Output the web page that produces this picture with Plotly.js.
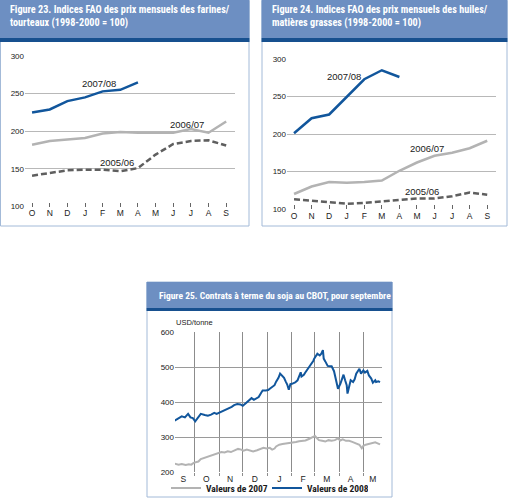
<!DOCTYPE html>
<html><head><meta charset="utf-8">
<script src="https://cdn.plot.ly/plotly-3.0.1.min.js"></script>
<style>html,body{margin:0;padding:0;background:#fff;overflow:hidden;}#chart{width:511px;height:499px;}</style>
</head><body><div id="chart"></div><script>
// ---------- data ----------
const monthLetters = ['O','N','D','J','F','M','A','M','J','J','A','S'];
const monthIdx = [0,1,2,3,4,5,6,7,8,9,10,11];
// Figure 23 : farines / tourteaux
const meal0708 = [225,229,240,245,253,255,265];
const meal0607 = [182,187,189,191,197,199,198,198,198,203,198,213];
const meal0506 = [141,144,148,149,149,147,151,169,183,187,188,181];
// Figure 24 : huiles / matières grasses
const oil0708 = [201,221,226,250,273,285,276];
const oil0607 = [120,130,136,135,136,138,151,162,171,175,181,191];
const oil0506 = [113,111,108,107,108,110,112,114,114,117,122,119];
// Figure 25 : soja CBOT, septembre
const dates2008 = ['2007-09-06','2007-09-11','2007-09-15','2007-09-19','2007-09-23','2007-09-26','2007-09-29','2007-10-02','2007-10-05','2007-10-09','2007-10-14','2007-10-18','2007-10-22','2007-10-26','2007-10-29','2007-11-02','2007-11-05','2007-11-09','2007-11-13','2007-11-17','2007-11-20','2007-11-24','2007-11-28','2007-12-01','2007-12-04','2007-12-07','2007-12-10','2007-12-12','2007-12-15','2007-12-19','2007-12-21','2007-12-24','2007-12-26','2007-12-30','2008-01-02','2008-01-04','2008-01-07','2008-01-10','2008-01-12','2008-01-15','2008-01-17','2008-01-20','2008-01-22','2008-01-24','2008-01-26','2008-01-28','2008-01-30','2008-02-01','2008-02-05','2008-02-08','2008-02-10','2008-02-12','2008-02-13','2008-02-16','2008-02-18','2008-02-21','2008-02-23','2008-02-26','2008-02-28','2008-02-29','2008-03-02','2008-03-04','2008-03-07','2008-03-09','2008-03-11','2008-03-12','2008-03-14','2008-03-17','2008-03-20','2008-03-22','2008-03-25','2008-03-27','2008-03-30','2008-04-02','2008-04-05','2008-04-06','2008-04-08','2008-04-10','2008-04-11','2008-04-13','2008-04-15','2008-04-18','2008-04-20','2008-04-22','2008-04-25','2008-04-26','2008-04-28','2008-05-01','2008-05-03','2008-05-06','2008-05-08','2008-05-11','2008-05-13','2008-05-16','2008-05-17','2008-05-20','2008-05-22'];
const soy2008 = [347,354,359,356,366,356,354,345,354,366,363,361,364,369,366,370,372,376,381,386,391,394,393,389,395,402,406,411,406,411,414,426,433,433,434,438,443,448,458,469,481,475,469,459,450,435,451,452,456,462,475,485,473,478,485,494,502,511,518,524,531,538,533,538,548,524,516,503,502,502,488,467,438,452,471,478,462,448,424,448,462,457,465,481,490,495,481,490,484,489,476,467,455,462,457,459,457];
const dates2007 = ['2007-09-06','2007-09-11','2007-09-15','2007-09-20','2007-09-24','2007-09-27','2007-09-30','2007-10-03','2007-10-06','2007-10-09','2007-10-14','2007-10-18','2007-10-22','2007-10-26','2007-10-31','2007-11-04','2007-11-08','2007-11-12','2007-11-16','2007-11-20','2007-11-25','2007-11-29','2007-12-02','2007-12-06','2007-12-10','2007-12-14','2007-12-19','2007-12-23','2007-12-27','2007-12-31','2008-01-04','2008-01-07','2008-01-10','2008-01-12','2008-01-16','2008-01-20','2008-01-24','2008-01-29','2008-02-02','2008-02-06','2008-02-10','2008-02-14','2008-02-18','2008-02-23','2008-02-27','2008-03-01','2008-03-03','2008-03-06','2008-03-10','2008-03-14','2008-03-18','2008-03-22','2008-03-26','2008-03-30','2008-04-02','2008-04-05','2008-04-09','2008-04-13','2008-04-17','2008-04-21','2008-04-26','2008-04-29','2008-05-01','2008-05-04','2008-05-08','2008-05-12','2008-05-16','2008-05-19','2008-05-22'];
const soy2007 = [224,221,223,220,222,221,226,228,230,237,241,244,248,252,255,257,256,259,257,262,266,264,261,264,261,259,262,266,269,267,269,264,267,273,278,280,281,283,283,286,288,288,290,295,300,303,298,291,289,287,291,289,291,296,290,293,289,289,286,283,278,268,275,278,280,282,285,282,279];
const soyMonthLabels = ['S','O','N','D','J','F','M','A','M'];
const soyLabelDates = ['2007-09-17','2007-10-16','2007-11-15','2007-12-16','2008-01-16','2008-02-15','2008-03-16','2008-04-15','2008-05-13'];
const soyMonthStarts = ['2007-10-01','2007-11-01','2007-12-01','2008-01-01','2008-02-01','2008-03-01','2008-04-01','2008-05-01'];

// ---------- helpers ----------
const W = 511, H = 499;
const px = x => x / W, py = y => 1 - y / H;
const BLUE = '#11569c', LGREY = '#b3b3b3', DGREY = '#5f5f5f';
const NARROW = '"Liberation Sans Narrow", "Arial Narrow", "Roboto Condensed", "Liberation Sans", sans-serif';
const SANS = '"Liberation Sans", Arial, sans-serif';

const traces = [
  {x: monthIdx.slice(0, meal0708.length), y: meal0708, xaxis:'x', yaxis:'y', mode:'lines', line:{color:BLUE, width:2.5}, showlegend:false, name:'2007/08'},
  {x: monthIdx, y: meal0607, xaxis:'x', yaxis:'y', mode:'lines', line:{color:LGREY, width:2.5}, showlegend:false, name:'2006/07'},
  {x: monthIdx, y: meal0506, xaxis:'x', yaxis:'y', mode:'lines', line:{color:DGREY, width:2.5, dash:'6px,3px'}, showlegend:false, name:'2005/06'},
  {x: monthIdx.slice(0, oil0708.length), y: oil0708, xaxis:'x2', yaxis:'y2', mode:'lines', line:{color:BLUE, width:2.5}, showlegend:false, name:'2007/08'},
  {x: monthIdx, y: oil0607, xaxis:'x2', yaxis:'y2', mode:'lines', line:{color:LGREY, width:2.5}, showlegend:false, name:'2006/07'},
  {x: monthIdx, y: oil0506, xaxis:'x2', yaxis:'y2', mode:'lines', line:{color:DGREY, width:2.5, dash:'6px,3px'}, showlegend:false, name:'2005/06'},
  {x: dates2007, y: soy2007, xaxis:'x3', yaxis:'y3', mode:'lines', line:{color:LGREY, width:2}, name:'Valeurs de 2007'},
  {x: dates2008, y: soy2008, xaxis:'x3', yaxis:'y3', mode:'lines', line:{color:BLUE, width:2}, name:'Valeurs de 2008'}
];

const tickFont = {family: SANS, size: 8, color: '#222'};
const catX = (dom, anchor) => ({
  domain: dom, anchor: anchor, range: [-0.4, 11.5], tickvals: monthIdx, ticktext: monthLetters,
  ticks: 'inside', ticklen: 4, tickcolor: '#666', tickwidth: 1, showgrid: false, zeroline: false,
  showline: false, tickfont: {family: SANS, size: 8.5, color: '#222'}, fixedrange: true, automargin: false
});
const idxY = (dom, anchor) => ({
  domain: dom, anchor: anchor, range: [100, 300], tickvals: [100,150,200,250,300],
  gridcolor: '#b8b8b8', gridwidth: 1, zeroline: false, showline: false, ticks: '',
  tickfont: tickFont, fixedrange: true, automargin: false
});

const rect = (x0, y0, x1, y1, fill, line) => ({
  type: 'rect', xref: 'paper', yref: 'paper', x0: px(x0), x1: px(x1), y0: py(y1), y1: py(y0),
  fillcolor: fill, line: line ? {color: line, width: 1} : {width: 0}, layer: 'below'
});
const HEAD = '#6d8fc2', STRIPE = '#17508f', BORDER = '#a3bad8';
const shapes = [
  rect(0.5, 0.5, 249, 226, '#fff', BORDER), rect(0, 0, 249.5, 38, HEAD), rect(0, 38, 249.5, 42, STRIPE),
  rect(262, 0.5, 507, 226, '#fff', BORDER), rect(261.5, 0, 507.5, 38, HEAD), rect(261.5, 38, 507.5, 42, STRIPE),
  rect(147, 282, 392, 497, '#fff', BORDER), rect(146.5, 282, 392.5, 308, HEAD), rect(146.5, 308, 392.5, 311, STRIPE)
];

const titleFont = {family: NARROW, size: 10.2, color: '#fff', weight: 'bold'};
const lab = (text, x, y) => ({text: text, x: px(x), y: py(y), xref: 'paper', yref: 'paper', showarrow: false,
  xanchor: 'center', yanchor: 'middle', font: {family: SANS, size: 9.5, color: '#1a1a1a'}});
const annotations = [
  {text: 'Figure 23. Indices FAO des prix mensuels des farines/<br>tourteaux (1998-2000 = 100)', x: px(8), y: py(2),
   xref: 'paper', yref: 'paper', xanchor: 'left', yanchor: 'top', align: 'left', showarrow: false, font: titleFont},
  {text: 'Figure 24. Indices FAO des prix mensuels des huiles/<br>matières grasses (1998-2000 = 100)', x: px(270), y: py(2),
   xref: 'paper', yref: 'paper', xanchor: 'left', yanchor: 'top', align: 'left', showarrow: false, font: titleFont},
  {text: 'Figure 25. Contrats à terme du soja au CBOT, pour septembre', x: px(157), y: py(295),
   xref: 'paper', yref: 'paper', xanchor: 'left', yanchor: 'middle', align: 'left', showarrow: false,
   font: {family: NARROW, size: 9.5, color: '#fff', weight: 'bold'}},
  lab('2007/08', 99, 84), lab('2006/07', 187, 124), lab('2005/06', 117, 162),
  lab('2007/08', 344, 76), lab('2006/07', 427, 148), lab('2005/06', 422, 191),
  {text: 'USD/tonne', x: px(174), y: py(322), xref: 'paper', yref: 'paper', xanchor: 'left', yanchor: 'middle',
   showarrow: false, font: {family: SANS, size: 7.5, color: '#222'}}
];

const layout = {
  width: W, height: H, margin: {l: 0, r: 0, t: 0, b: 0, pad: 0, autoexpand: false},
  paper_bgcolor: '#ffffff', plot_bgcolor: 'rgba(0,0,0,0)',
  xaxis: catX([px(25), px(235)], 'y'),
  yaxis: idxY([py(206.5), py(56)], 'x'),
  xaxis2: catX([px(287), px(496)], 'y2'),
  yaxis2: idxY([py(209), py(59)], 'x2'),
  xaxis3: {
    domain: [px(175), px(382)], anchor: 'y3', type: 'date', range: ['2007-09-06 12:00', '2008-05-24 12:00'],
    tickmode: 'array', tickvals: soyLabelDates, ticktext: soyMonthLabels, ticks: '', showgrid: false,
    zeroline: false, showline: false, tickfont: {family: SANS, size: 8.5, color: '#222'}, fixedrange: true, automargin: false,
    minor: {tickmode: 'array', tickvals: soyMonthStarts, showgrid: true, gridcolor: '#8c8c8c', gridwidth: 1,
            ticks: 'outside', ticklen: 3, tickcolor: '#8c8c8c'}
  },
  yaxis3: {
    domain: [py(472), py(332)], anchor: 'x3', range: [200, 600], tickvals: [200,300,400,500,600],
    gridcolor: '#9a9a9a', gridwidth: 1, zeroline: false, showline: false, ticks: '', tickfont: tickFont,
    fixedrange: true, automargin: false
  },
  showlegend: true,
  legend: {orientation: 'h', x: px(166), y: py(488), xanchor: 'left', yanchor: 'middle', bgcolor: 'rgba(0,0,0,0)',
           font: {family: NARROW, size: 9.5, color: '#1a1a1a', weight: 'bold'}, entrywidth: 56, entrywidthmode: 'pixels',
           itemwidth: 30},
  shapes: shapes,
  annotations: annotations
};

Plotly.newPlot('chart', traces, layout, {displayModeBar: false, staticPlot: true});
</script></body></html>
